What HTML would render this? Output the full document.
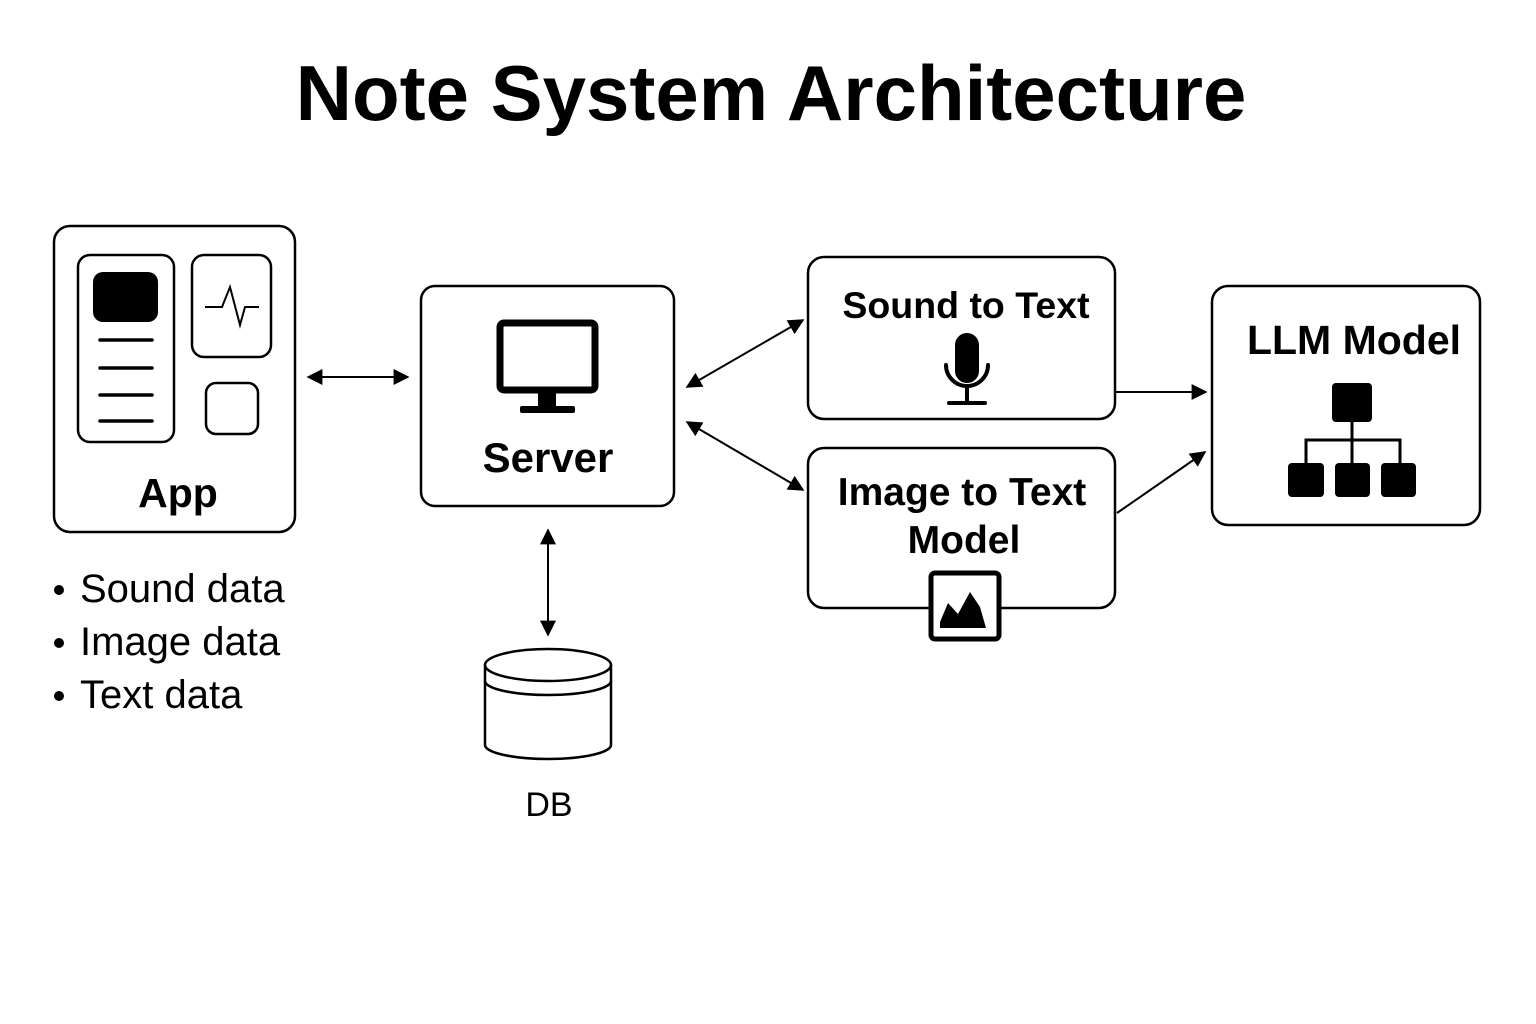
<!DOCTYPE html>
<html><head><style>body{margin:0;background:#fff}svg{display:block}text{font-family:"Liberation Sans",sans-serif;fill:#000}</style></head><body>
<svg width="1536" height="1024" viewBox="0 0 1536 1024" xmlns="http://www.w3.org/2000/svg">
<defs><marker id="a" viewBox="0 0 10 10" refX="9" refY="5" markerWidth="8" markerHeight="8" orient="auto-start-reverse"><path d="M0,0L10,5L0,10z" fill="#000"/></marker></defs>
<text x="771" y="120" font-size="78" font-weight="bold" text-anchor="middle">Note System Architecture</text>
<g fill="none" stroke="#000" stroke-width="2.5">
<rect x="54" y="226" width="241" height="306" rx="16"/>
<rect x="78" y="255" width="96" height="187" rx="12"/>
<rect x="192" y="255" width="79" height="102" rx="12"/>
<rect x="206" y="383" width="52" height="51" rx="10"/>
<path d="M205,307H222L230,287L240,325L245,307H259" stroke-width="2"/>
<path d="M100,340H152M100,368H152M100,395H152M100,421H152" stroke-width="3.5" stroke-linecap="round"/>
<rect x="421" y="286" width="253" height="220" rx="14"/>
<rect x="808" y="257" width="307" height="162" rx="16"/>
<rect x="808" y="448" width="307" height="160" rx="16"/>
<rect x="1212" y="286" width="268" height="239" rx="16"/>
<path d="M485,665V745A63,14 0 0 0 611,745V665"/>
<ellipse cx="548" cy="665" rx="63" ry="16"/>
<path d="M485,681A63,14 0 0 0 611,681"/>
</g>
<rect x="93" y="272" width="65" height="50" rx="10"/>
<text x="178" y="507" font-size="41" font-weight="bold" text-anchor="middle">App</text>
<g stroke="#000" stroke-width="2" fill="none" marker-start="url(#a)" marker-end="url(#a)">
<line x1="308" y1="377" x2="408" y2="377"/>
<line x1="548" y1="530" x2="548" y2="635"/>
<line x1="687" y1="387" x2="803" y2="320"/>
<line x1="687" y1="422" x2="803" y2="490"/>
</g>
<g stroke="#000" stroke-width="2" fill="none" marker-end="url(#a)">
<line x1="1115" y1="392" x2="1206" y2="392"/>
<line x1="1117" y1="513" x2="1205" y2="452"/>
</g>
<rect x="500" y="323" width="95" height="67" rx="4" fill="none" stroke="#000" stroke-width="7"/>
<rect x="538" y="392" width="18" height="14" fill="#000"/>
<rect x="520" y="406" width="55" height="7" rx="2" fill="#000"/>
<text x="548" y="472" font-size="42" font-weight="bold" text-anchor="middle">Server</text>
<text x="549" y="816" font-size="34" text-anchor="middle">DB</text>
<g font-size="40"><circle cx="59" cy="590" r="5"/><circle cx="59" cy="643" r="5"/><circle cx="59" cy="696" r="5"/>
<text x="80" y="602">Sound data</text><text x="80" y="655">Image data</text><text x="80" y="708">Text data</text></g>
<text x="966" y="318" font-size="37.5" font-weight="bold" text-anchor="middle">Sound to Text</text>
<rect x="955" y="333" width="24" height="50" rx="12" fill="#000"/>
<path d="M946,365A21,21 0 0 0 988,365M967,386V403M949,403H985" fill="none" stroke="#000" stroke-width="4" stroke-linecap="round"/>
<text x="962" y="505" font-size="39" font-weight="bold" text-anchor="middle">Image to Text</text>
<text x="964" y="553" font-size="39" font-weight="bold" text-anchor="middle">Model</text>
<rect x="931" y="573" width="68" height="66" rx="4" fill="#fff" stroke="#000" stroke-width="5"/>
<path d="M940,622L948,603L958,614L970,592L980,607L986,628H940Z" fill="#000"/>
<text x="1354" y="354" font-size="41" font-weight="bold" text-anchor="middle">LLM Model</text>
<rect x="1332" y="383" width="40" height="39" rx="4"/>
<path d="M1352,422V440M1306,463V440H1400V463M1352,440V463" fill="none" stroke="#000" stroke-width="3"/>
<rect x="1288" y="463" width="36" height="34" rx="4"/><rect x="1335" y="463" width="35" height="34" rx="4"/><rect x="1381" y="463" width="35" height="34" rx="4"/>
</svg>
</body></html>
